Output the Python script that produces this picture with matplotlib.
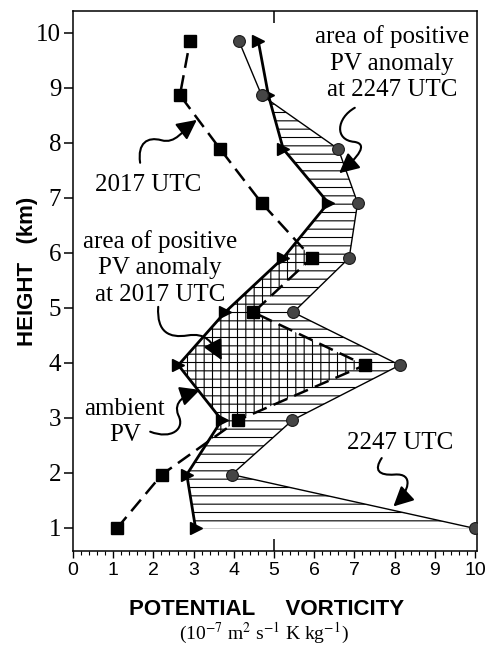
import matplotlib
matplotlib.use('Agg')
import matplotlib.pyplot as plt
import numpy as np
from matplotlib.path import Path
from matplotlib.patches import FancyArrowPatch
from matplotlib.ticker import MultipleLocator

# ---- data ----
heights = [0.99, 1.97, 2.96, 3.96, 4.92, 5.91, 6.91, 7.89, 8.87, 9.85]   # km
pv_2017 = [1.09, 2.21, 4.11, 7.26, 4.49, 5.94, 4.69, 3.66, 2.66, 2.91]
pv_2247 = [10.0, 3.95, 5.46, 8.13, 5.48, 6.87, 7.08, 6.60, 4.69, 4.13]
pv_ambient = [3.05, 2.83, 3.70, 2.62, 3.78, 5.23, 6.35, 5.23, 4.86, 4.61]
x_ticks = list(range(0, 11))
y_ticks = list(range(1, 11))

SERIF = 'Liberation Serif'
SANS = 'Liberation Sans'
plt.rcParams['font.family'] = [SERIF, 'DejaVu Serif']
plt.rcParams['hatch.linewidth'] = 0.8
plt.rcParams['mathtext.fontset'] = 'stix'

fig = plt.figure(figsize=(4.9, 6.47), dpi=100)
ax = fig.add_axes([73 / 490, 1 - 551 / 647, 404 / 490, 540 / 647])

h = np.array(heights)
s = np.array(pv_2017)
c = np.array(pv_2247)
a = np.array(pv_ambient)

# hatched anomaly areas
ax.fill_betweenx(h, a, c, where=c >= a, interpolate=True, facecolor='none',
                 edgecolor='black', hatch='--', linewidth=0, zorder=1)
ax.fill_betweenx(h, a, s, where=s >= a, interpolate=True, facecolor='none',
                 edgecolor='black', hatch='||', linewidth=0, zorder=1)

# profiles
ax.plot(c, h, color='black', lw=1.0, zorder=3)
ax.plot(c, h, linestyle='none', marker='o', ms=8.5, mfc='#454545', mec='#1a1a1a',
        mew=0.8, zorder=6)
ax.plot(a, h, color='black', lw=2.0, marker='>', ms=9, zorder=4)
ax.plot(s, h, color='black', lw=1.8, dashes=(6, 3), marker='s', ms=9, zorder=5)

ax.set_xlim(0, 10.05)
ax.set_ylim(0.58, 10.4)

ax.set_xticks(x_ticks)
ax.xaxis.set_minor_locator(MultipleLocator(0.2))
ax.tick_params(axis='x', which='major', direction='out', length=5, width=1,
               labelsize=14, pad=3, top=False)
ax.tick_params(axis='x', which='minor', direction='out', length=3, width=0.8, top=False)
for lbl in ax.get_xticklabels():
    lbl.set_fontfamily(SANS)
ax.set_yticks(y_ticks)
ax.tick_params(axis='y', direction='out', length=6.5, width=1.1, labelsize=18, pad=2,
               right=False)
for sp in ax.spines.values():
    sp.set_linewidth(1.1)

# inward ticks at x=5 on top and bottom
for side in ('top', 'bottom'):
    sec = ax.secondary_xaxis(side)
    sec.set_xticks([5])
    sec.set_xticklabels([])
    sec.tick_params(direction='in', length=8.5, width=1.1)
    sec.spines[side].set_visible(False)

ax.set_xlabel('POTENTIAL     VORTICITY', fontfamily=SANS, fontweight='bold',
              fontsize=16, va='top')
ax.xaxis.set_label_coords(0.48, -0.088)
ax.set_ylabel('HEIGHT   (km)', fontfamily=SANS, fontweight='bold', fontsize=16,
              va='center')
ax.yaxis.set_label_coords(-0.112, 0.517)
fig.text(0.539, 0.021, r'(10$^{-7}$ m$^{2}$ s$^{-1}$ K kg$^{-1}$)', fontfamily=SERIF,
         fontsize=14, ha='center', va='center')

# annotations
tkw = dict(fontfamily=SERIF, fontsize=18, ha='center', va='center', linespacing=1.25,
           zorder=7)
ax.text(7.94, 9.45, 'area of positive\nPV anomaly\nat 2247 UTC', **tkw)
ax.text(1.87, 7.24, '2017 UTC', **tkw)
ax.text(2.16, 5.73, 'area of positive\nPV anomaly\nat 2017 UTC', **tkw)
ax.text(1.29, 2.93, 'ambient\nPV', **tkw)
ax.text(8.13, 2.55, '2247 UTC', **tkw)

C4 = Path.CURVE4
arrows = [
    [(7.01, 8.64), (6.55, 8.45), (6.5, 8.05), (7.0, 8.02), (7.35, 7.98), (7.1, 7.75), (6.62, 7.45)],
    [(1.67, 7.64), (1.6, 8.0), (1.85, 8.12), (2.2, 8.05), (2.55, 7.98), (2.72, 8.22), (3.08, 8.42)],
    [(2.12, 5.02), (2.08, 4.55), (2.4, 4.45), (2.85, 4.5), (3.3, 4.55), (3.45, 4.4), (3.7, 4.05)],
    [(1.92, 2.75), (2.45, 2.6), (2.8, 2.8), (2.62, 3.05), (2.48, 3.3), (2.8, 3.42), (3.16, 3.51)],
    [(7.68, 2.27), (7.48, 2.05), (7.6, 1.95), (8.0, 1.97), (8.5, 2.0), (8.35, 1.65), (7.97, 1.39)],
]
for verts in arrows:
    p = Path(verts, [Path.MOVETO] + [C4] * 6)
    arr = FancyArrowPatch(path=p, arrowstyle='-|>,head_length=0.6,head_width=0.3',
                          mutation_scale=20, lw=1.5, color='black', zorder=7)
    ax.add_patch(arr)

fig.savefig('out.png', dpi=100)
